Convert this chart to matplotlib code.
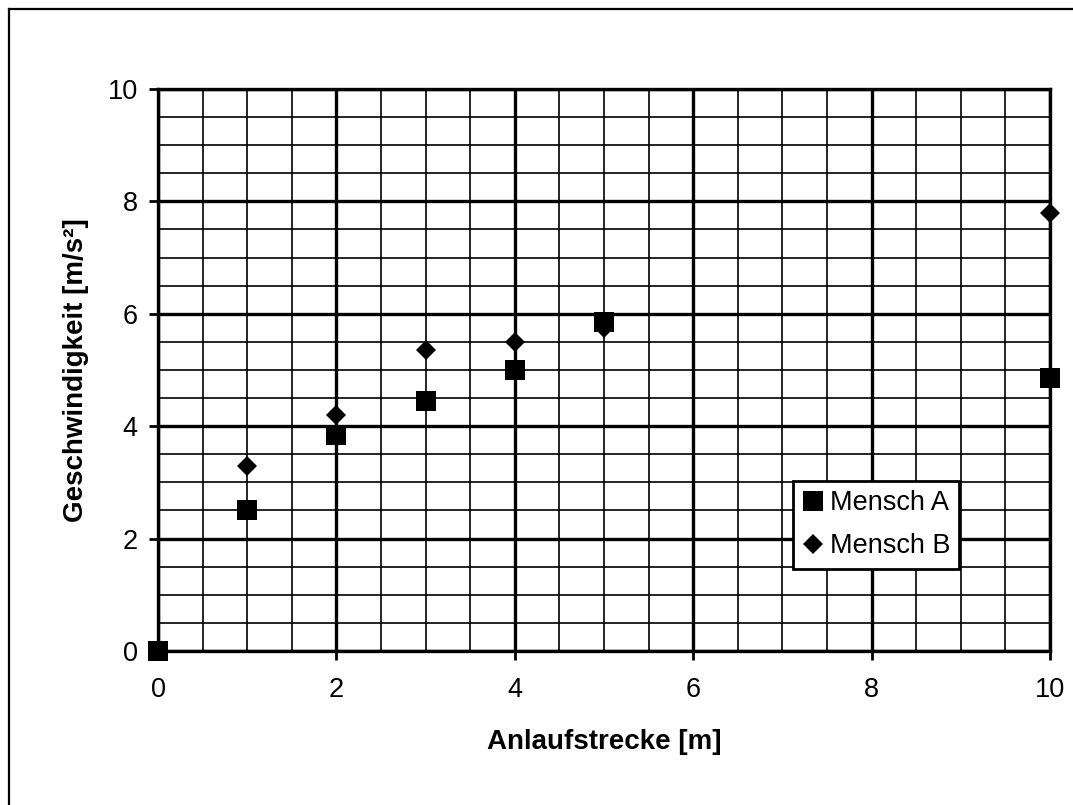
import matplotlib
matplotlib.use("Agg")
import matplotlib.pyplot as plt
from matplotlib.ticker import MultipleLocator
from matplotlib.lines import Line2D

plt.rcParams['font.family'] = ['Liberation Sans', 'DejaVu Sans']

# Data
strecke = [0, 1, 2, 3, 4, 5, 10]
mensch_a = [0.0, 2.5, 3.85, 4.45, 5.0, 5.85, 4.85]
mensch_b = [0.0, 3.3, 4.2, 5.35, 5.5, 5.75, 7.8]
series_labels = ["Mensch A", "Mensch B"]
x_title = "Anlaufstrecke [m]"
y_title = "Geschwindigkeit [m/s²]"

W, H = 1073, 805
fig = plt.figure(figsize=(W / 100, H / 100), dpi=100)
fig.patch.set_facecolor("white")

# chart area frame (left and top edges)
fig.add_artist(Line2D([9 / W, 9 / W], [0, 1 - 9 / H], color="black", lw=1.6, transform=fig.transFigure))
fig.add_artist(Line2D([9 / W, 1.0], [1 - 9 / H, 1 - 9 / H], color="black", lw=1.6, transform=fig.transFigure))

left, right, top, bottom = 158, 1050, 89, 651
ax = fig.add_axes([left / W, 1 - bottom / H, (right - left) / W, (bottom - top) / H])

ax.set_xlim(0, 10)
ax.set_ylim(0, 10)
ax.xaxis.set_major_locator(MultipleLocator(2))
ax.yaxis.set_major_locator(MultipleLocator(2))
ax.xaxis.set_minor_locator(MultipleLocator(0.5))
ax.yaxis.set_minor_locator(MultipleLocator(0.5))

ax.grid(which="minor", color="black", lw=1.2)
ax.grid(which="major", color="black", lw=2.4)
ax.set_axisbelow(True)

for s in ax.spines.values():
    s.set_linewidth(2.4)
    s.set_color("black")

fs_tick = 19.5
fs_title = 20
ax.tick_params(which="major", direction="out", length=6.5, width=2, labelsize=fs_tick, colors="black")
ax.tick_params(axis="x", which="major", pad=12)
ax.tick_params(axis="y", which="major", pad=8)
ax.tick_params(which="minor", length=0)

ax.plot(strecke, mensch_a, linestyle="none", marker="s", markersize=13.8,
        color="black", markeredgewidth=0, label=series_labels[0], clip_on=False, zorder=3)
ax.plot(strecke, mensch_b, linestyle="none", marker="D", markersize=10.5,
        color="black", markeredgewidth=0, label=series_labels[1], clip_on=False, zorder=3)

ax.set_xlabel(x_title, fontsize=fs_title, fontweight="bold")
ax.set_ylabel(y_title, fontsize=fs_title, fontweight="bold")
ax.xaxis.set_label_coords(0.5, -(729 - bottom) / (bottom - top))
ax.yaxis.set_label_coords(-(left - 89) / (right - left), 0.5)

leg = ax.legend(loc="upper left", bbox_to_anchor=(793 / W, 1 - 481 / H),
                bbox_transform=fig.transFigure, borderaxespad=0, fontsize=fs_tick,
                frameon=True, fancybox=False, framealpha=1, edgecolor="black",
                borderpad=0.35, labelspacing=0.62, handlelength=0.8,
                handletextpad=0.2, markerscale=1.0)
leg.get_frame().set_linewidth(2)

fig.savefig("out.png", dpi=100, facecolor="white")
